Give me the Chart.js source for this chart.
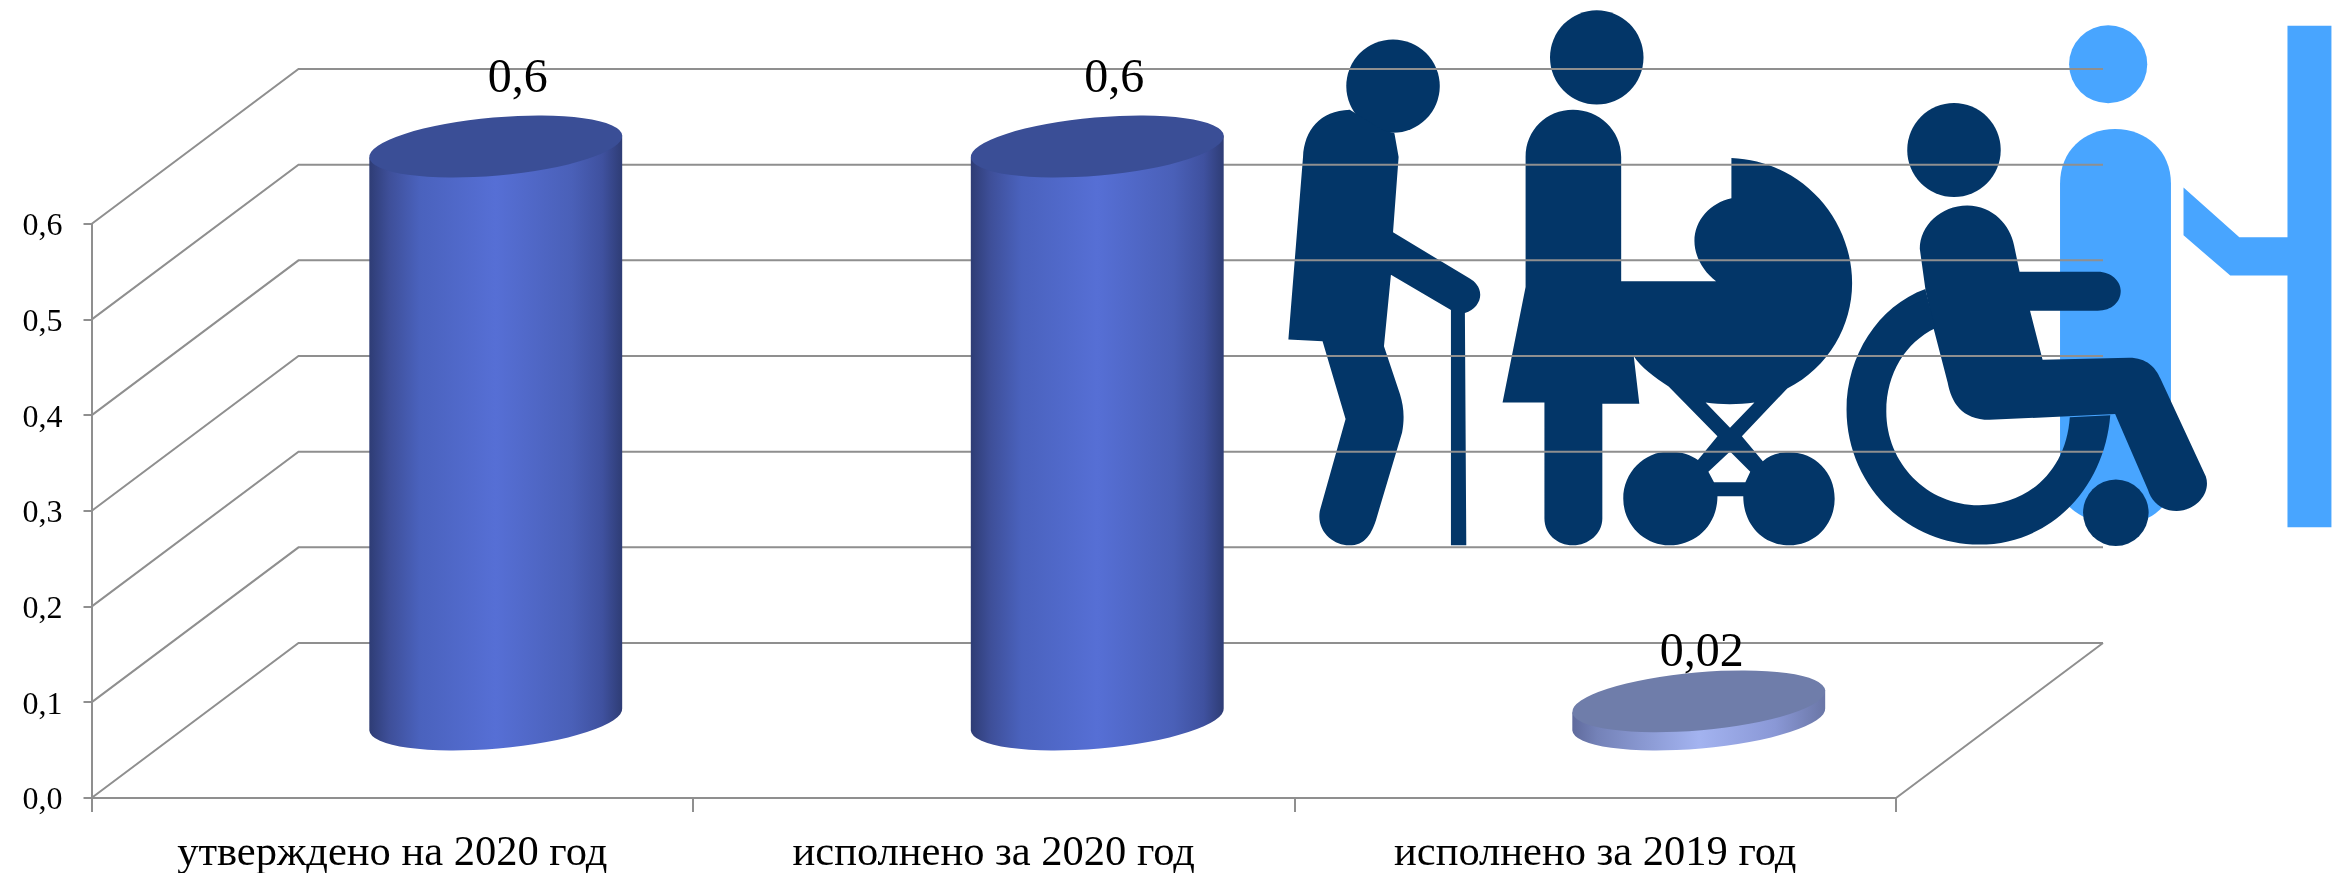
<!DOCTYPE html>
<html>
<head>
<meta charset="utf-8">
<style>
  html, body { margin: 0; background: #fff; }
  #wrap { position: relative; width: 2344px; height: 873px; overflow: hidden; }
  #wrap svg, #wrap canvas { position: absolute; left: 0; top: 0; }
</style>
</head>
<body>
<div id="wrap">
  <!-- people picture behind the chart, grid lines run over it -->
  <svg width="2344" height="873" viewBox="0 0 2344 873">
    <g transform="translate(1250 0) scale(0.6977 0.3827)">
      <g fill="#48a5ff">
        <ellipse cx="1230" cy="168" rx="56" ry="102"/>
        <path d="M1161 480 C1161 395 1195 337 1240 337 C1285 337 1320 395 1320 480 L1320 1290 C1310 1330 1290 1370 1240 1370 C1200 1370 1175 1330 1161 1300 Z"/>
        <path d="M1338 490 L1418 620 L1487 620 L1487 67 L1550 67 L1550 1378 L1487 1378 L1487 720 L1405 720 L1338 615 Z"/>
      </g>
      <g fill="#033668">
        <ellipse cx="205" cy="225" rx="67" ry="122"/>
        <path d="M143 287 C100 290 78 340 76 410 L55 887 L104 892 L137 1095 L100 1335 C95 1390 120 1425 142 1425 C165 1425 175 1395 182 1350 L218 1130 C222 1090 220 1060 215 1030 L192 905 L202 718 L288 810 L288 1425 L310 1425 L308 818 C322 810 330 790 330 770 C330 750 322 735 315 728 L205 607 L213 410 L207 348 L190 340 Z"/>
        <ellipse cx="497" cy="150" rx="67" ry="123"/>
        <path fill-rule="evenodd" d="M395 410 C395 340 425 287 463 287 C500 287 532 340 532 410 L532 735 L668 735 C650 710 637 670 637 630 C637 575 660 530 690 518 L690 413 C790 420 863 570 863 740 C863 850 830 960 770 1015 L705 1140 L735 1205 C745 1190 755 1182 773 1182 C810 1182 838 1235 838 1303 C838 1370 810 1425 773 1425 C735 1425 707 1370 707 1297 L670 1297 C670 1370 640 1425 601 1425 C565 1425 535 1370 535 1303 C535 1235 565 1180 601 1180 C620 1180 632 1190 642 1202 L670 1140 L600 1010 C580 985 560 960 550 930 L558 1055 L505 1055 L505 1355 C505 1395 485 1425 463 1425 C440 1425 422 1395 422 1355 L422 1052 L362 1052 L395 750 Z M653 1052 C675 1058 700 1058 723 1052 L688 1118 Z M688 1180 L657 1233 L665 1260 L710 1260 L717 1233 Z"/>
        <ellipse cx="1009" cy="392" rx="67" ry="123"/>
        <path d="M960 650 C960 590 990 537 1028 537 C1065 537 1090 590 1095 640 L1103 710 L1215 710 C1235 710 1248 735 1248 760 C1248 790 1235 812 1215 812 L1118 812 L1136 940 L1260 935 C1285 935 1298 960 1305 990 L1370 1245 C1378 1290 1355 1335 1328 1335 C1305 1335 1292 1310 1287 1280 L1240 1082 L1060 1097 C1020 1097 1005 1050 1000 1000 L980 860 L968 755 Z"/>
        <path d="M968 755 C900 800 855 930 855 1070 C855 1265 940 1423 1045 1423 C1150 1423 1225 1270 1233 1085 L1175 1090 C1170 1230 1115 1320 1045 1320 C970 1320 912 1210 912 1075 C912 975 940 895 982 858 Z"/>
        <ellipse cx="1241" cy="1340" rx="47" ry="87"/>
      </g>
    </g>
  </svg>
  <canvas id="chart" width="2344" height="873"></canvas>
</div>

<script src="https://cdn.jsdelivr.net/npm/chart.js@4"></script>
<script>
// Data
const categories = ['утверждено на 2020 год', 'исполнено за 2020 год', 'исполнено за 2019 год'];
const values = [0.6, 0.6, 0.02];
const valueLabels = ['0,6', '0,6', '0,02'];
const yTickLabels = ['0,0', '0,1', '0,2', '0,3', '0,4', '0,5', '0,6'];

// Config
const FONT = '"Liberation Serif", "Times New Roman", serif';
const GRID_COLOR = '#8f8f8f';
const DEPTH_X = 207;
const DEPTH_Y = 155;
const TILT = -5 * Math.PI / 180;
const CAP_RY = 29;

const BLUE_STOPS = [[0, '#2e3c74'], [0.08, '#3e4f99'], [0.2, '#4a62bd'], [0.5, '#566fd5'], [0.8, '#4a60b8'], [0.92, '#3f519f'], [1, '#2e3c74']];
const BODY_STOPS = [
	BLUE_STOPS,
	BLUE_STOPS,
	[[0, '#5f6a9c'], [0.1, '#7482b8'], [0.5, '#a3b3f0'], [0.8, '#8a98d6'], [1, '#6a76a6']]
];
const CAP_COLORS = ['#3a4e96', '#3a4e96', '#6f7daa'];
const LABEL_NUDGE_X = [22, 17, 3];
const LABEL_NUDGE_Y = [-67, -67, -48];

// Back wall and side lines of the 3D box
const wallPlugin = {
	id: 'wall',
	beforeDatasetsDraw(chart) {
		const { ctx, scales: { x, y } } = chart;
		const right = x.right + DEPTH_X;
		ctx.save();
		ctx.strokeStyle = GRID_COLOR;
		ctx.lineWidth = 2;
		ctx.beginPath();
		y.ticks.forEach((tick) => {
			const py = y.getPixelForValue(tick.value);
			ctx.moveTo(x.left, py);
			ctx.lineTo(x.left + DEPTH_X, py - DEPTH_Y);
			ctx.lineTo(right, py - DEPTH_Y);
		});
		ctx.moveTo(x.right, y.bottom);
		ctx.lineTo(right, y.bottom - DEPTH_Y);
		ctx.stroke();
		ctx.restore();
	}
};

function drawCylinder(ctx, cx, topY, baseY, rx, index) {
	const grad = ctx.createLinearGradient(cx - rx, 0, cx + rx, 0);
	BODY_STOPS[index].forEach(([stop, color]) => grad.addColorStop(stop, color));
	const dx = rx * Math.cos(TILT);
	const dy = rx * Math.sin(TILT);

	ctx.beginPath();
	ctx.ellipse(cx, baseY, rx, CAP_RY, TILT, 0, Math.PI);
	ctx.lineTo(cx - dx, topY - dy);
	ctx.lineTo(cx + dx, topY + dy);
	ctx.closePath();
	ctx.fillStyle = grad;
	ctx.fill();

	ctx.beginPath();
	ctx.ellipse(cx, topY, rx, CAP_RY, TILT, 0, Math.PI * 2);
	ctx.fillStyle = CAP_COLORS[index];
	ctx.fill();
}

// Bars are turned into cylinders pushed to the middle of the box depth
const cylinderPlugin = {
	id: 'cylinder',
	afterDatasetsDraw(chart) {
		const { ctx } = chart;
		chart.getDatasetMeta(0).data.forEach((bar, i) => {
			const { x, y, base, width } = bar.getProps(['x', 'y', 'base', 'width']);
			const cx = x + DEPTH_X / 2;
			const topY = y - DEPTH_Y / 2;
			drawCylinder(ctx, cx, topY, base - DEPTH_Y / 2, width / 2, i);

			ctx.save();
			ctx.fillStyle = '#000';
			ctx.font = `48px ${FONT}`;
			ctx.textAlign = 'center';
			ctx.textBaseline = 'middle';
			ctx.fillText(valueLabels[i], cx + LABEL_NUDGE_X[i], topY + LABEL_NUDGE_Y[i]);
			ctx.restore();
		});
	}
};

const data = {
	labels: categories,
	datasets: [
		{
			data: values,
			backgroundColor: 'transparent',
			barPercentage: 0.422,
			categoryPercentage: 1
		}
	]
};

const options = {
	responsive: false,
	animation: false,
	layout: { padding: { top: 224, right: 448, left: 0, bottom: 0 } },
	plugins: {
		legend: { display: false },
		tooltip: { enabled: false }
	},
	scales: {
		x: {
			afterFit: (scale) => { scale.height = 75; },
			border: { color: GRID_COLOR, width: 2 },
			grid: { color: GRID_COLOR, drawOnChartArea: false, tickLength: 14, lineWidth: 2 },
			ticks: { color: '#000', font: { family: FONT, size: 42.5 }, padding: 16, maxRotation: 0 }
		},
		y: {
			min: 0,
			max: 0.6,
			afterFit: (scale) => { scale.width = 91.5; },
			border: { color: GRID_COLOR, width: 2 },
			grid: { color: GRID_COLOR, drawOnChartArea: false, tickLength: 8, lineWidth: 2 },
			ticks: {
				stepSize: 0.1,
				color: '#000',
				font: { family: FONT, size: 32 },
				padding: 21,
				labelOffset: 3,
				callback: (value, index) => yTickLabels[index]
			}
		}
	}
};

// Init
new Chart(document.getElementById('chart').getContext('2d'), {
	type: 'bar',
	data,
	options,
	plugins: [wallPlugin, cylinderPlugin]
});
</script>
</body>
</html>
